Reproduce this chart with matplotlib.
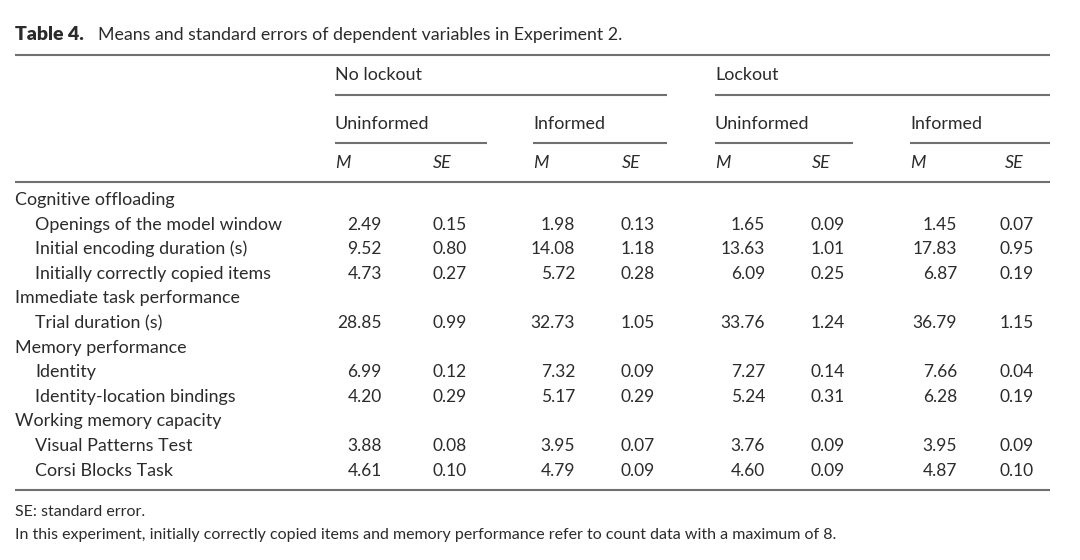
import matplotlib
matplotlib.use("Agg")
import matplotlib.pyplot as plt

# ---- data ----
groups = ["Cognitive offloading", "Immediate task performance",
          "Memory performance", "Working memory capacity"]
row_labels = [
    ["Openings of the model window", "Initial encoding duration (s)",
     "Initially correctly copied items"],
    ["Trial duration (s)"],
    ["Identity", "Identity-location bindings"],
    ["Visual Patterns Test", "Corsi Blocks Task"],
]
conditions = ["No lockout", "Lockout"]
subconditions = ["Uninformed", "Informed"]

nolock_uninf_M = ["2.49", "9.52", "4.73", "28.85", "6.99", "4.20", "3.88", "4.61"]
nolock_uninf_SE = ["0.15", "0.80", "0.27", "0.99", "0.12", "0.29", "0.08", "0.10"]
nolock_inf_M = ["1.98", "14.08", "5.72", "32.73", "7.32", "5.17", "3.95", "4.79"]
nolock_inf_SE = ["0.13", "1.18", "0.28", "1.05", "0.09", "0.29", "0.07", "0.09"]
lock_uninf_M = ["1.65", "13.63", "6.09", "33.76", "7.27", "5.24", "3.76", "4.60"]
lock_uninf_SE = ["0.09", "1.01", "0.25", "1.24", "0.14", "0.31", "0.09", "0.09"]
lock_inf_M = ["1.45", "17.83", "6.87", "36.79", "7.66", "6.28", "3.95", "4.87"]
lock_inf_SE = ["0.07", "0.95", "0.19", "1.15", "0.04", "0.19", "0.09", "0.10"]

title_bold = "Table 4."
title_rest = "Means and standard errors of dependent variables in Experiment 2."
footnotes = ["SE: standard error.",
             "In this experiment, initially correctly copied items and memory performance refer to count data with a maximum of 8."]

# ---- figure ----
W, H = 1080, 560
fig = plt.figure(figsize=(W / 100, H / 100), dpi=100)
ax = fig.add_axes([0, 0, 1, 1])
ax.set_xlim(0, W)
ax.set_ylim(H, 0)
ax.axis("off")

FONT = "Lato"
TC = "#2b2b2b"
LC = "#707070"
FS = 12.9
NFS = 12.5

def txt(x, y, s, ha="left", **kw):
    ax.text(x, y, s, ha=ha, va="center", fontsize=kw.pop("fs", FS),
            family=FONT, color=TC, **kw)

def hline(x0, x1, y, lw=1.5):
    ax.plot([x0, x1], [y, y], color=LC, lw=lw, solid_capstyle="butt")

# title
txt(15, 35, title_bold, fs=14.0, fontweight="heavy")
txt(98, 35, title_rest, fs=12.8)

L, R = 15, 1050
hline(L, R, 55)

# header spans
cond_spans = [(335, 667), (715, 1050)]
sub_spans = [(335, 487), (533, 667), (715, 853), (910, 1050)]
for (x0, x1), c in zip(cond_spans, conditions):
    txt(x0, 75, c)
    hline(x0, x1, 95)
for i, (x0, x1) in enumerate(sub_spans):
    txt(x0, 124, subconditions[i % 2])
    hline(x0, x1, 143)

m_x = [335, 533, 715, 910]
se_x = [433, 622, 812, 1005]
for mx, sx in zip(m_x, se_x):
    txt(mx, 163, "M", style="italic")
    txt(sx, 163, "SE", style="italic")
hline(L, R, 182)

# body
cols = [nolock_uninf_M, nolock_uninf_SE, nolock_inf_M, nolock_inf_SE,
        lock_uninf_M, lock_uninf_SE, lock_inf_M, lock_inf_SE]
col_right = [382, 467, 575, 655, 765, 845, 957, 1034]

y = 200
step = 24.6
k = 0
for g, subs in zip(groups, row_labels):
    txt(L, y, g)
    y += step
    for lab in subs:
        txt(35, y, lab)
        for c, xr in zip(cols, col_right):
            txt(xr, y, c[k], ha="right", fs=NFS)
        k += 1
        y += step

hline(L, R, 490)

txt(L, 512, footnotes[0], fs=11.5)
txt(L, 535, footnotes[1], fs=11.5)

fig.savefig("out.png", dpi=100, facecolor="white")
